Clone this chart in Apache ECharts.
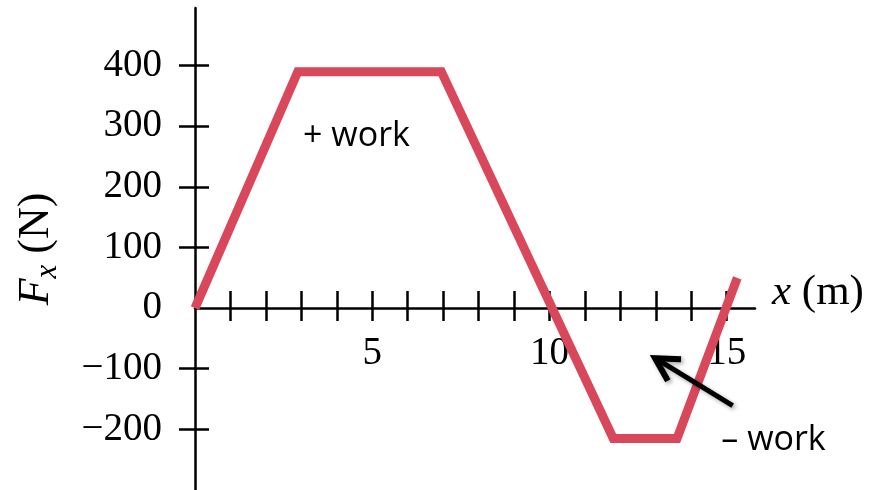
<!DOCTYPE html>
<html><head><meta charset="utf-8">
<script src="https://cdn.jsdelivr.net/npm/echarts@6/dist/echarts.min.js"></script>
<style>html,body{margin:0;padding:0;background:#fff}#c{width:879px;height:490px}</style>
</head><body><div id="c"></div>
<script>
// ---- data ----
const xValues = [0, 2.9, 6.95, 11.8, 13.6, 15.3];
const forceValues = [0, 390, 390, -215, -215, 50];
const xTickValues = [1, 2, 3, 4, 5, 6, 7, 8, 9, 10, 11, 12, 13, 14, 15];
const xLabelValues = [5, 10, 15];
const yTickValues = [-200, -100, 100, 200, 300, 400];
const yLabelValues = [-200, -100, 0, 100, 200, 300, 400];
const annotationTexts = ['+ work', '\u2013 work'];
const annotationAnchors = [[3.05, 283], [14.85, -218]];
const arrowTail = [15.17, -161];
const arrowHead = [12.98, -82.5];

const serif = 'Liberation Serif';
const black = '#000';
const lineColor = '#d8475a';

const xMin = 0, xMax = 15.8, yMin = -300, yMax = 495;

const chart = echarts.init(document.getElementById('c'), null, {renderer: 'canvas'});

const xBase = {
  type: 'value', min: xMin, max: xMax, interval: 1, position: 'bottom',
  splitLine: {show: false}
};
const yBase = {
  type: 'value', min: yMin, max: yMax, interval: 100, position: 'left',
  splitLine: {show: false}
};

const option = {
  animation: false,
  backgroundColor: '#fff',
  grid: {left: 195, right: 124, top: 8, bottom: 0, containLabel: false, outerBoundsMode: 'none'},
  xAxis: [
    Object.assign({}, xBase, {
      axisLine: {show: false, onZero: true},
      axisTick: {show: true, inside: true, length: 17, customValues: xTickValues, lineStyle: {color: black, width: 2.5}},
      axisLabel: {show: false}
    }),
    Object.assign({}, xBase, {
      offset: 0,
      axisLine: {show: true, onZero: false, lineStyle: {color: black, width: 2.5}},
      axisTick: {show: true, length: 13, customValues: xTickValues, lineStyle: {color: black, width: 2.5}},
      axisLabel: {show: true, customValues: xLabelValues, margin: 26, color: black, hideOverlap: false,
        fontFamily: serif, fontSize: 39},
      name: '{i|x}{n| (m)}', nameLocation: 'end', nameGap: 17,
      nameTextStyle: {
        color: black, verticalAlign: 'middle', padding: [0, 0, 30, 0],
        rich: {
          i: {fontFamily: serif, fontStyle: 'italic', fontSize: 43, color: black},
          n: {fontFamily: serif, fontSize: 43, color: black}
        }
      }
    })
  ],
  yAxis: [
    Object.assign({}, yBase, {
      axisLine: {show: true, onZero: false, lineStyle: {color: black, width: 2.5}},
      axisTick: {show: true, length: 16, customValues: yTickValues, lineStyle: {color: black, width: 2.5}},
      axisLabel: {show: true, customValues: yLabelValues, margin: 33, color: black,
        fontFamily: serif, fontSize: 39,
        formatter: v => String(v).replace('-', '\u2212')},
      name: '{f|F}{s|x}{n| (N)}', nameLocation: 'middle', nameRotate: 90, nameGap: 132,
      nameTextStyle: {
        color: black,
        rich: {
          f: {fontFamily: serif, fontStyle: 'italic', fontSize: 44, color: black},
          s: {fontFamily: serif, fontStyle: 'italic', fontSize: 31, color: black, verticalAlign: 'top', padding: [22, 0, 0, 0]},
          n: {fontFamily: serif, fontSize: 44, color: black}
        }
      }
    }),
    Object.assign({}, yBase, {
      axisLine: {show: false, onZero: false},
      axisTick: {show: true, inside: true, length: 14, customValues: yTickValues, lineStyle: {color: black, width: 2.5}},
      axisLabel: {show: false}
    })
  ],
  series: [{
    type: 'line', xAxisIndex: 1, yAxisIndex: 0,
    data: xValues.map((x, i) => [x, forceValues[i]]),
    symbol: 'none', silent: true,
    lineStyle: {color: lineColor, width: 9, join: 'miter', cap: 'butt'},
    z: 1
  }]
};
chart.setOption(option);

// move the labelled x axis onto the zero line of the y axis
const toPx = p => chart.convertToPixel({xAxisIndex: 1, yAxisIndex: 0}, p);
const zeroY = toPx([0, 0])[1];
const bottomY = toPx([0, yMin])[1];
chart.setOption({xAxis: [{}, {offset: zeroY - bottomY}]});

// annotations and arrow positioned through the axes
const graphics = [];
annotationTexts.forEach((t, i) => {
  const p = toPx(annotationAnchors[i]);
  graphics.push({
    type: 'text', x: p[0], y: p[1], z: 10,
    style: {text: t, fill: black, font: '34px "Open Sans"', textAlign: 'left', textVerticalAlign: 'middle'}
  });
});
const tail = toPx(arrowTail), head = toPx(arrowHead);
const dx = tail[0] - head[0], dy = tail[1] - head[1];
const len = Math.hypot(dx, dy);
const ux = dx / len, uy = dy / len;
const armLen = 26, ang = 29 * Math.PI / 180;
const rot = (a) => [ux * Math.cos(a) - uy * Math.sin(a), ux * Math.sin(a) + uy * Math.cos(a)];
const a1 = rot(ang), a2 = rot(-ang);
const shadow = {shadowBlur: 4, shadowColor: 'rgba(0,0,0,0.35)', shadowOffsetX: 2, shadowOffsetY: 2};
graphics.push({
  type: 'line', z: 10,
  shape: {x1: tail[0], y1: tail[1], x2: head[0] + ux * 3, y2: head[1] + uy * 3},
  style: Object.assign({stroke: black, lineWidth: 5}, shadow)
});
graphics.push({
  type: 'polyline', z: 10,
  shape: {points: [[head[0] + a1[0] * armLen, head[1] + a1[1] * armLen], head, [head[0] + a2[0] * armLen, head[1] + a2[1] * armLen]]},
  style: Object.assign({stroke: black, lineWidth: 6, lineJoin: 'miter', fill: null}, shadow)
});
chart.setOption({graphic: graphics});
</script>
</body></html>
